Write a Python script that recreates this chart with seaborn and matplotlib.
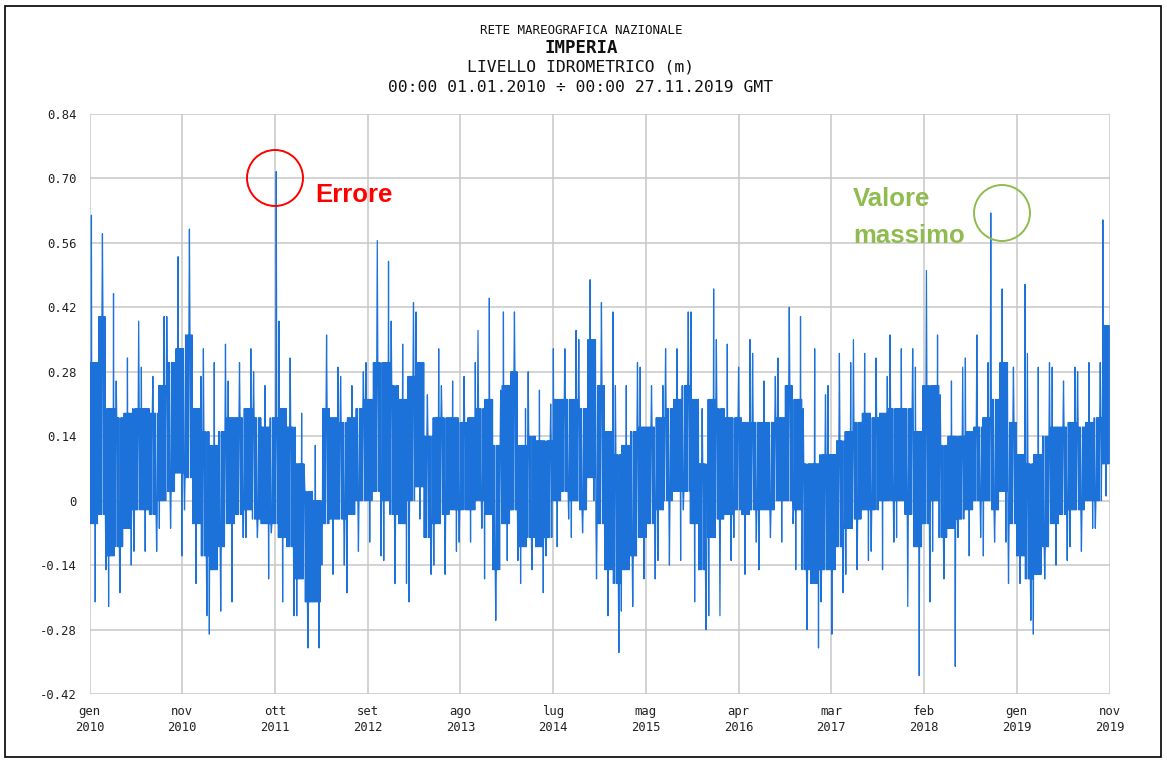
import numpy as np
import pandas as pd
import matplotlib
matplotlib.use("Agg")
import matplotlib.pyplot as plt
import matplotlib.dates as mdates
from matplotlib.patches import Ellipse, Rectangle
import seaborn as sns

# ---------------- data (metres) ----------------
START = "2010-01-01"
END = "2019-11-27"

# monthly maximum (spikes)
month_max = [0.62, 0.58, 0.45, 0.26, 0.31, 0.39, 0.29, 0.27, 0.40, 0.40, 0.53, 0.59,
             0.27, 0.33, 0.30, 0.34, 0.26, 0.30, 0.33, 0.28, 0.25, 0.715, 0.39, 0.31,
             0.19, 0.06, 0.12, 0.36, 0.29, 0.27, 0.25, 0.28, 0.30, 0.565, 0.52, 0.39,
             0.34, 0.43, 0.41, 0.23, 0.33, 0.25, 0.26, 0.27, 0.30, 0.37, 0.44, 0.24,
             0.41, 0.41, 0.20, 0.28, 0.24, 0.21, 0.33, 0.33, 0.37, 0.35, 0.48, 0.43,
             0.41, 0.25, 0.25, 0.30, 0.29, 0.25, 0.25, 0.33, 0.33, 0.41, 0.41, 0.20,
             0.46, 0.35, 0.34, 0.29, 0.35, 0.32, 0.26, 0.27, 0.31, 0.42, 0.40, 0.20,
             0.33, 0.23, 0.25, 0.32, 0.30, 0.35, 0.32, 0.31, 0.27, 0.36, 0.33, 0.33,
             0.29, 0.50, 0.36, 0.23, 0.26, 0.29, 0.31, 0.36, 0.30, 0.625, 0.46, 0.29,
             0.47, 0.32, 0.29, 0.30, 0.29, 0.26, 0.29, 0.28, 0.30, 0.30, 0.61]
# upper edge of the dense band
band_high = [0.30, 0.40, 0.20, 0.18, 0.19, 0.20, 0.20, 0.19, 0.25, 0.30, 0.33, 0.36,
             0.20, 0.15, 0.12, 0.15, 0.18, 0.18, 0.20, 0.18, 0.16, 0.18, 0.20, 0.16,
             0.08, 0.02, 0.00, 0.20, 0.18, 0.17, 0.18, 0.20, 0.22, 0.30, 0.30, 0.25,
             0.22, 0.27, 0.30, 0.14, 0.18, 0.18, 0.18, 0.17, 0.18, 0.20, 0.22, 0.12,
             0.25, 0.28, 0.12, 0.14, 0.13, 0.13, 0.22, 0.22, 0.22, 0.20, 0.35, 0.25,
             0.15, 0.10, 0.12, 0.15, 0.16, 0.16, 0.18, 0.20, 0.22, 0.25, 0.22, 0.08,
             0.22, 0.20, 0.18, 0.18, 0.17, 0.17, 0.17, 0.17, 0.18, 0.25, 0.22, 0.08,
             0.08, 0.10, 0.10, 0.13, 0.15, 0.17, 0.19, 0.18, 0.19, 0.20, 0.20, 0.20,
             0.15, 0.25, 0.25, 0.12, 0.14, 0.14, 0.15, 0.16, 0.18, 0.22, 0.30, 0.17,
             0.10, 0.08, 0.10, 0.14, 0.16, 0.16, 0.17, 0.16, 0.17, 0.18, 0.38]
# lower edge of the dense band
band_low = [-0.05, -0.03, -0.12, -0.10, -0.06, -0.02, -0.02, -0.03, 0.00, 0.02, 0.06, 0.05,
            -0.05, -0.12, -0.15, -0.10, -0.05, -0.03, -0.02, -0.04, -0.05, -0.05, -0.08, -0.10,
            -0.17, -0.22, -0.22, -0.05, -0.04, -0.04, -0.03, 0.00, 0.00, 0.02, 0.00, -0.03,
            -0.05, 0.00, 0.03, -0.08, -0.05, -0.03, -0.02, -0.02, -0.02, 0.00, -0.03, -0.15,
            -0.05, -0.02, -0.10, -0.08, -0.10, -0.08, 0.00, 0.02, 0.00, -0.02, 0.05, -0.05,
            -0.15, -0.18, -0.15, -0.12, -0.08, -0.05, -0.02, 0.00, 0.02, 0.02, -0.05, -0.15,
            -0.08, -0.04, -0.03, -0.02, -0.03, -0.02, -0.02, -0.02, 0.00, 0.00, -0.02, -0.15,
            -0.18, -0.15, -0.15, -0.10, -0.06, -0.04, -0.02, -0.02, 0.00, 0.00, 0.00, -0.03,
            -0.10, -0.05, 0.00, -0.08, -0.06, -0.04, -0.02, 0.00, 0.00, -0.02, 0.02, -0.05,
            -0.12, -0.17, -0.16, -0.10, -0.05, -0.03, -0.02, -0.02, 0.00, 0.00, 0.08]
# monthly minimum (spikes)
month_min = [-0.22, -0.15, -0.23, -0.20, -0.14, -0.11, -0.11, -0.11, -0.06, -0.06, -0.12, -0.02,
             -0.18, -0.25, -0.29, -0.24, -0.22, -0.08, -0.08, -0.08, -0.17, -0.07, -0.22, -0.25,
             -0.25, -0.32, -0.32, -0.14, -0.16, -0.14, -0.20, -0.11, -0.09, -0.12, -0.13, -0.18,
             -0.18, -0.22, -0.04, -0.16, -0.14, -0.16, -0.11, -0.09, -0.09, -0.06, -0.17, -0.26,
             -0.13, -0.13, -0.18, -0.15, -0.20, -0.12, -0.10, -0.04, -0.08, -0.07, 0.00, -0.17,
             -0.25, -0.33, -0.24, -0.23, -0.17, -0.17, -0.13, -0.14, -0.13, -0.02, -0.22, -0.28,
             -0.25, -0.25, -0.13, -0.08, -0.16, -0.09, -0.15, -0.08, -0.09, -0.05, -0.15, -0.28,
             -0.32, -0.22, -0.29, -0.20, -0.16, -0.15, -0.13, -0.11, -0.15, -0.09, -0.08, -0.23,
             -0.38, -0.22, -0.11, -0.17, -0.36, -0.08, -0.12, -0.08, -0.12, -0.09, -0.09, -0.18,
             -0.18, -0.26, -0.29, -0.17, -0.14, -0.13, -0.10, -0.11, -0.06, -0.06, 0.01]

y_ticks = [-0.42, -0.28, -0.14, 0.0, 0.14, 0.28, 0.42, 0.56, 0.70, 0.84]
y_tick_labels = ["-0.42", "-0.28", "-0.14", "0", "0.14", "0.28", "0.42", "0.56", "0.70", "0.84"]
x_tick_labels = ["gen\n2010", "nov\n2010", "ott\n2011", "set\n2012", "ago\n2013", "lug\n2014",
                 "mag\n2015", "apr\n2016", "mar\n2017", "feb\n2018", "gen\n2019", "nov\n2019"]

title_lines = ["RETE MAREOGRAFICA NAZIONALE", "IMPERIA", "LIVELLO IDROMETRICO (m)",
               "00:00 01.01.2010 \u00f7 00:00 27.11.2019 GMT"]

# ---------------- build the drawn series from the monthly envelopes ----------------
start = pd.Timestamp(START)
end = pd.Timestamp(END)
month_starts = list(pd.date_range(START, periods=len(month_max), freq="MS"))
month_ends = month_starts[1:] + [end]

N_PER_MONTH = 16
times, levels = [], []
for i, (m0, m1) in enumerate(zip(month_starts, month_ends)):
    seq = [band_low[i] if j % 2 == 0 else band_high[i] for j in range(N_PER_MONTH)]
    p = (3 + 5 * i) % N_PER_MONTH
    q = (p + 7) % N_PER_MONTH
    seq[p] = month_max[i]
    seq[q] = month_min[i]
    span = m1 - m0
    for j, v in enumerate(seq):
        times.append(m0 + span * ((j + 0.5) / N_PER_MONTH))
        levels.append(v)
df = pd.DataFrame({"time": times, "level": levels})

# ---------------- figure ----------------
sns.set_theme(style="white")
plt.rcParams["font.family"] = ["DejaVu Sans Mono", "DejaVu Sans"]

W, H = 1167, 763
fig = plt.figure(figsize=(W / 100, H / 100), dpi=100)
fig.patch.set_facecolor("white")

left_px, right_px, top_px, bottom_px = 89.5, 1109.5, 114, 694
ax = fig.add_axes([left_px / W, 1 - bottom_px / H,
                   (right_px - left_px) / W, (bottom_px - top_px) / H])

BLUE = "#1c72d9"
sns.lineplot(data=df, x="time", y="level", ax=ax, color=BLUE, linewidth=0.9,
             estimator=None, sort=False, legend=False)

ax.set_xlim(start, end)
ax.set_ylim(-0.42, 0.84)
tick_dates = [start + (end - start) * k / 11 for k in range(12)]
ax.set_xticks([mdates.date2num(t.to_pydatetime()) for t in tick_dates])
ax.set_xticklabels(x_tick_labels, fontsize=8.8, linespacing=1.3)
ax.set_yticks(y_ticks)
ax.set_yticklabels(y_tick_labels, fontsize=8.8)
ax.set_xlabel("")
ax.set_ylabel("")

ax.grid(True, color="#c8c8c8", linewidth=1.1)
ax.set_axisbelow(True)
for s in ax.spines.values():
    s.set_visible(False)
ax.tick_params(axis="both", which="major", length=6, width=1.1, color="#c8c8c8",
               labelcolor="#222222")
ax.tick_params(axis="y", pad=3)
ax.tick_params(axis="x", pad=2)

# titles
cx = 581 / W
fig.text(cx, 1 - 31 / H, title_lines[0], ha="center", va="center", fontsize=9, color="#111111")
fig.text(cx, 1 - 48 / H, title_lines[1], ha="center", va="center", fontsize=12.5,
         fontweight="bold", color="#111111")
fig.text(cx, 1 - 67 / H, title_lines[2], ha="center", va="center", fontsize=11.8, color="#111111")
fig.text(cx, 1 - 88 / H, title_lines[3], ha="center", va="center", fontsize=11.8, color="#111111")

# annotations
RED = "#ff0000"
GREEN = "#8fbb4f"
fig.add_artist(Ellipse((275 / W, 1 - 178 / H), 56 / W, 56 / H, transform=fig.transFigure,
                       fill=False, edgecolor=RED, linewidth=1.4))
fig.text(315 / W, 1 - 195 / H, "Errore", ha="left", va="center", fontsize=18.5,
         fontweight="bold", color=RED, family=["Liberation Sans", "DejaVu Sans"])
fig.add_artist(Ellipse((1002 / W, 1 - 213 / H), 56 / W, 56 / H, transform=fig.transFigure,
                       fill=False, edgecolor=GREEN, linewidth=1.4))
fig.text(853 / W, 1 - 199 / H, "Valore", ha="left", va="center", fontsize=18.5,
         fontweight="bold", color=GREEN, family=["Liberation Sans", "DejaVu Sans"])
fig.text(853 / W, 1 - 236 / H, "massimo", ha="left", va="center", fontsize=18.5,
         fontweight="bold", color=GREEN, family=["Liberation Sans", "DejaVu Sans"])

# outer frame
fig.add_artist(Rectangle((5 / W, 1 - 757 / H), (1161 - 5) / W, (757 - 6) / H,
                         transform=fig.transFigure, fill=False, edgecolor="black", linewidth=1.2))

fig.savefig("out.png", dpi=100, facecolor="white")
